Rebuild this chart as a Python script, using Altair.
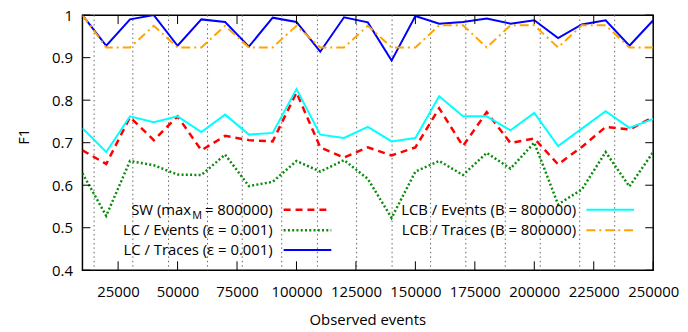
import altair as alt
import pandas as pd

# ---------------- data ----------------
x_events = [10000, 20000, 30000, 40000, 50000, 60000, 70000, 80000, 90000, 100000,
            110000, 120000, 130000, 140000, 150000, 160000, 170000, 180000, 190000, 200000,
            210000, 220000, 230000, 240000, 250000]
sw = [0.682, 0.650, 0.760, 0.706, 0.762, 0.682, 0.716, 0.706, 0.703, 0.818,
      0.689, 0.665, 0.689, 0.670, 0.689, 0.781, 0.692, 0.772, 0.699, 0.710,
      0.649, 0.690, 0.737, 0.731, 0.760]
lc_events = [0.628, 0.528, 0.657, 0.647, 0.625, 0.624, 0.672, 0.598, 0.608, 0.657,
             0.632, 0.659, 0.615, 0.523, 0.632, 0.657, 0.624, 0.676, 0.639, 0.700,
             0.555, 0.590, 0.678, 0.597, 0.678]
lc_traces = [1.000, 0.928, 0.990, 1.000, 0.928, 0.990, 0.984, 0.926, 0.994, 0.984,
             0.914, 0.995, 0.983, 0.893, 0.998, 0.980, 0.984, 0.992, 0.980, 0.988,
             0.946, 0.978, 0.988, 0.928, 0.988]
lcb_events = [0.734, 0.678, 0.762, 0.748, 0.762, 0.725, 0.766, 0.719, 0.723, 0.826,
              0.719, 0.711, 0.737, 0.703, 0.711, 0.809, 0.762, 0.762, 0.729, 0.770,
              0.692, 0.733, 0.774, 0.735, 0.756]
lcb_traces = [1.000, 0.924, 0.924, 0.975, 0.924, 0.924, 0.975, 0.924, 0.924, 0.975,
              0.924, 0.924, 0.975, 0.924, 0.924, 0.976, 0.976, 0.924, 0.976, 0.976,
              0.924, 0.976, 0.976, 0.924, 0.924]
grid_x = [14900, 31200, 46200, 62600, 77200, 93800, 108800, 125300, 140200,
          156400, 171200, 187800, 202500, 219100, 233800]
x_ticks = [25000, 50000, 75000, 100000, 125000, 150000, 175000, 200000, 225000, 250000]
y_ticks = [0.4, 0.5, 0.6, 0.7, 0.8, 0.9, 1.0]

# ---------------- styling ----------------
W, H = 575, 257
FONT = "Open Sans"
FS = 15
xs = alt.Scale(domain=[10000, 250000], nice=False, zero=False)
ys = alt.Scale(domain=[0.4, 1.0], nice=False, zero=False)

df = pd.DataFrame({"x": x_events, "sw": sw, "lce": lc_events, "lct": lc_traces,
                   "lcbe": lcb_events, "lcbt": lcb_traces})

series = [
    ("sw", "#ff0000", [7, 5], 2.5),
    ("lce", "#0a8a0a", [2, 2.3], 2.5),
    ("lct", "#0000ff", None, 2),
    ("lcbe", "#00ffff", None, 2),
    ("lcbt", "#ffa500", [9, 4, 2, 4], 2),
]

x_axis = alt.Axis(values=x_ticks, format="d", grid=False, ticks=False, domain=False,
                  labelFont=FONT, labelFontSize=FS, labelColor="black",
                  labelPadding=26, labelBaseline="alphabetic", labelFlush=False,
                  labelOverlap=False,
                  title="Observed events", titleFont=FONT, titleFontSize=FS,
                  titleFontWeight="normal", titleColor="black",
                  titleX=287, titleY=55, titleAlign="center", titleBaseline="alphabetic")
y_axis = alt.Axis(values=y_ticks, format="~g", grid=False, ticks=False, domain=False,
                  labelFont=FONT, labelFontSize=FS, labelColor="black",
                  labelPadding=10, labelAlign="right", labelBaseline="middle",
                  labelFlush=False, labelOverlap=False,
                  title="F1", titleFont=FONT, titleFontSize=FS,
                  titleFontWeight="normal", titleColor="black",
                  titleX=-59, titleY=122, titleAlign="center", titleBaseline="middle",
                  titleAngle=270)

layers = []

# vertical dotted grid
layers.append(
    alt.Chart(pd.DataFrame({"g": grid_x})).mark_rule(
        color="#666666", strokeWidth=1, strokeDash=[1.5, 3]
    ).encode(x=alt.X("g:Q", scale=xs, axis=x_axis))
)

# series lines
for col, color, dash, sw_ in series:
    kw = dict(color=color, strokeWidth=sw_, clip=True)
    if dash:
        kw["strokeDash"] = dash
    layers.append(
        alt.Chart(df).mark_line(**kw).encode(
            x=alt.X("x:Q", scale=xs, axis=x_axis),
            y=alt.Y(f"{col}:Q", scale=ys, axis=y_axis),
        )
    )

# inward ticks (and mirrors)
xt = pd.DataFrame({"t": x_ticks})
yt = pd.DataFrame({"t": y_ticks})
layers.append(alt.Chart(xt).mark_rule(color="black", strokeWidth=1).encode(
    x=alt.X("t:Q", scale=xs, axis=x_axis), y=alt.value(H), y2=alt.value(H - 9)))
layers.append(alt.Chart(xt).mark_rule(color="black", strokeWidth=1).encode(
    x=alt.X("t:Q", scale=xs, axis=x_axis), y=alt.value(0), y2=alt.value(9)))
layers.append(alt.Chart(yt).mark_rule(color="black", strokeWidth=1).encode(
    y=alt.Y("t:Q", scale=ys, axis=y_axis), x=alt.value(0), x2=alt.value(8)))
layers.append(alt.Chart(yt).mark_rule(color="black", strokeWidth=1).encode(
    y=alt.Y("t:Q", scale=ys, axis=y_axis), x=alt.value(W), x2=alt.value(W - 8)))

# ---------------- manual key (gnuplot style: text then sample) ----------------
one = pd.DataFrame({"k": [0]})


def key_text(txt, x, y, size=FS, baseline="middle"):
    return alt.Chart(one).mark_text(
        text=txt, font=FONT, fontSize=size, color="black", align="right",
        baseline=baseline
    ).encode(x=alt.value(x), y=alt.value(y))


def key_line(x1, x2, y, color, dash, width):
    kw = dict(color=color, strokeWidth=width)
    if dash:
        kw["strokeDash"] = dash
    return alt.Chart(one).mark_rule(**kw).encode(
        x=alt.value(x1), x2=alt.value(x2), y=alt.value(y))


L_TXT, L_S1, L_S2 = 191.7, 202.7, 250.7
R_TXT, R_S1, R_S2 = 497.4, 507.7, 555.7
ROWS = [196, 216.7, 236.7]

# SW (max_M= 800000)
layers.append(key_text("= 800000)", L_TXT, ROWS[0]))
layers.append(key_text("M", 120.5, 205.3, size=11, baseline="alphabetic"))
layers.append(key_text("SW (max", 109.5, ROWS[0]))
layers.append(key_line(L_S1, L_S2, ROWS[0], "#ff0000", [7, 5], 2.5))
layers.append(key_text("LC / Events (\u03b5 = 0.001)", L_TXT, ROWS[1]))
layers.append(key_line(L_S1, L_S2, ROWS[1], "#0a8a0a", [2, 2.3], 2.5))
layers.append(key_text("LC / Traces (\u03b5 = 0.001)", L_TXT, ROWS[2]))
layers.append(key_line(L_S1, L_S2, ROWS[2], "#0000ff", None, 2))
layers.append(key_text("LCB / Events (B = 800000)", R_TXT, ROWS[0]))
layers.append(key_line(R_S1, R_S2, ROWS[0], "#00ffff", None, 2))
layers.append(key_text("LCB / Traces (B = 800000)", R_TXT, ROWS[1]))
layers.append(key_line(R_S1, R_S2, ROWS[1], "#ffa500", [9, 4, 2, 4], 2))

chart = alt.layer(*layers).properties(
    width=W, height=H,
    autosize=alt.AutoSizeParams(type="none"),
    padding={"left": 75, "top": 6, "right": 27, "bottom": 57},
).configure_view(stroke="black", strokeWidth=1.5)

chart.save("out.html", embed_options={"renderer": "svg", "actions": False})
